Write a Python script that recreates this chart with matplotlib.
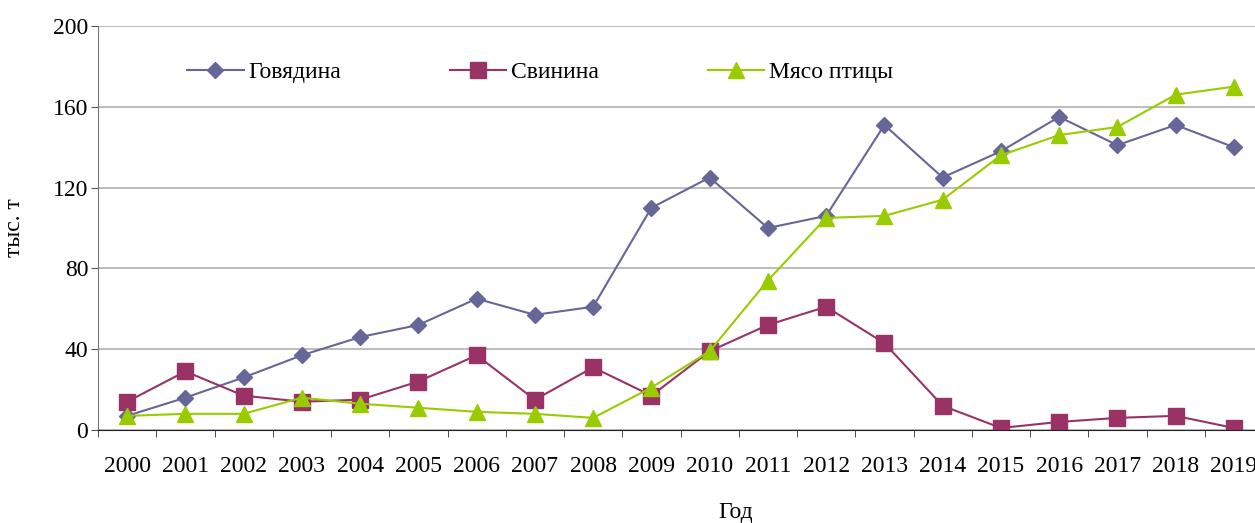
import numpy as np
from matplotlib import pyplot as plt

years = [str(y) for y in range(2000, 2020)]
beef = [7, 16, 26, 37, 46, 52, 65, 57, 61, 110, 125, 100, 106, 151, 125, 138, 155, 141, 151, 140]
pork = [14, 29, 17, 14, 15, 24, 37, 15, 31, 17, 39, 52, 61, 43, 12, 1, 4, 6, 7, 1]
poultry = [7, 8, 8, 16, 13, 11, 9, 8, 6, 21, 39, 74, 105, 106, 114, 136, 146, 150, 166, 170]
labels = ['Говядина', 'Свинина', 'Мясо птицы']

plt.rcParams['font.family'] = ['Liberation Serif', 'DejaVu Serif']
plt.rcParams['font.size'] = 17

fig = plt.figure(figsize=(12.55, 5.23), dpi=100)
ax = fig.add_axes([98 / 1255, 93 / 523, 1165 / 1255, 404 / 523])

x = np.arange(len(years))
ax.plot(x, beef, color='#666699', lw=1.5, marker='D', ms=8, label=labels[0])
ax.plot(x, pork, color='#993366', lw=1.5, marker='s', ms=11, label=labels[1])
ax.plot(x, poultry, color='#99cc00', lw=1.5, marker='^', ms=11, label=labels[2])

ax.set_xlim(-0.5, len(years) - 0.5)
ax.set_ylim(0, 200)
ax.set_yticks(np.arange(0, 201, 40))
ax.set_xticks(x)
ax.set_xticklabels(years)
ax.set_xticks(np.arange(-0.5, len(years), 1), minor=True)
ax.tick_params(axis='x', which='major', length=0, pad=19)
ax.tick_params(axis='x', which='minor', length=5, color='#333333', direction='out')
ax.tick_params(axis='y', length=5, color='#555555', direction='out', pad=2)

ax.grid(axis='y', color='#b0b0b0', lw=1.2)
ax.set_axisbelow(True)
for s in ['top', 'right']:
  ax.spines[s].set_visible(False)
ax.spines['left'].set_color('#777777')
ax.spines['bottom'].set_color('#222222')

ax.set_ylabel('тыс. т')
ax.yaxis.set_label_coords(-0.0627, 0.5)
ax.set_xlabel('Год')
ax.xaxis.set_label_coords((736 - 98) / 1165, -0.178)

ax.legend(loc='center left', bbox_to_anchor=(0.0764, 0.886), ncol=3, frameon=False,
          borderaxespad=0, borderpad=0,
          handlelength=2.4, columnspacing=4.6, handletextpad=0.2)

fig.savefig('out.png', dpi=100)
